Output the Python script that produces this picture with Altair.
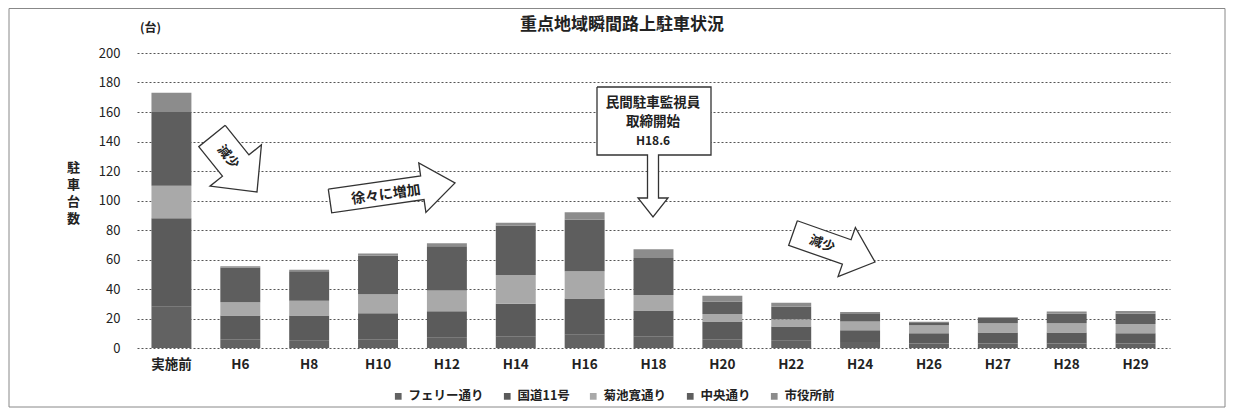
import math
import altair as alt
import pandas as pd

# ---- data ----
categories = ["実施前", "H6", "H8", "H10", "H12", "H14", "H16", "H18",
              "H20", "H22", "H24", "H26", "H27", "H28", "H29"]
series = ["フェリー通り", "国道11号", "菊池寛通り", "中央通り", "市役所前"]
ferry = [28, 6, 5, 6, 7, 8, 9, 8, 6, 5, 4, 3, 3, 3, 3]
kokudo = [60, 16, 17, 17.5, 18, 22, 24.5, 17.5, 12, 9.5, 8, 7, 7.5, 7.5, 7]
kikuchi = [22, 9, 10, 13, 14, 19.5, 18.5, 10.5, 5, 5, 6, 5.5, 6.3, 6.3, 6.3]
chuo = [50, 23.5, 20, 26, 30, 33.5, 35, 25, 8.5, 8.5, 5, 2, 3.5, 6.5, 7]
shiyakusho = [13, 1, 1, 1.5, 2, 2, 5, 6, 4, 2.7, 1.4, 0.3, 0.5, 1.4, 1.8]
y_ticks = [0, 20, 40, 60, 80, 100, 120, 140, 160, 180, 200]

title_text = "重点地域瞬間路上駐車状況"
unit_text = "(台)"
y_title = ["駐", "車", "台", "数"]
callout_lines = ["民間駐車監視員", "取締開始", "H18.6"]
arrow_labels = ["減少", "徐々に増加", "減少"]

colors = ["#626262", "#5b5b5b", "#a9a9a9", "#5e5e5e", "#8c8c8c"]
FONT = "Noto Sans CJK JP"
W, H = 1033, 295

rows = []
for si, (name, vals) in enumerate(zip(series, [ferry, kokudo, kikuchi, chuo, shiyakusho])):
    for c, v in zip(categories, vals):
        rows.append({"cat": c, "series": name, "value": v, "idx": si})
df = pd.DataFrame(rows)

bars = alt.Chart(df).mark_bar().encode(
    x=alt.X("cat:N", sort=categories,
            scale=alt.Scale(paddingInner=0.42, paddingOuter=0.21),
            axis=alt.Axis(title=None, labelAngle=0, domain=False, ticks=False,
                          labelPadding=9, labelFontSize=13.5, labelFontWeight="bold",
                          labelColor="#222", labelFont=FONT)),
    y=alt.Y("value:Q", stack="zero",
            scale=alt.Scale(domain=[0, 200], nice=False),
            axis=alt.Axis(values=y_ticks, domain=False, ticks=False, labelPadding=17,
                          labelFontSize=13, labelColor="#222", labelFont=FONT,
                          gridColor="#555", gridDash=[2, 2], gridWidth=1,
                          title=y_title, titleAngle=0, titleX=-64, titleY=108,
                          titleAlign="center", titleBaseline="top",
                          titleFontSize=13, titleFontWeight="bold",
                          titleLineHeight=17, titleColor="#222", titleFont=FONT)),
    color=alt.Color("series:N", sort=series,
                    scale=alt.Scale(domain=series, range=colors),
                    legend=alt.Legend(title=None, orient="none", direction="horizontal",
                                      legendX=255, legendY=337, symbolType="square",
                                      symbolSize=45, symbolStrokeWidth=0,
                                      labelFontSize=12.5, labelFont=FONT,
                                      labelFontWeight="bold",
                                      labelColor="#222", columnPadding=17)),
    order=alt.Order("idx:Q", sort="ascending"),
)

# ---- annotation shapes (pixel space of the plot area) ----
def block_arrow(x0, y0, x1, y1, shaft, head, head_len):
    dx, dy = x1 - x0, y1 - y0
    L = math.hypot(dx, dy)
    ux, uy = dx / L, dy / L
    nx, ny = -uy, ux
    neck = L - head_len
    pts = [(0, -shaft / 2), (neck, -shaft / 2), (neck, -head / 2), (L, 0),
           (neck, head / 2), (neck, shaft / 2), (0, shaft / 2), (0, -shaft / 2)]
    return [(x0 + ux * a + nx * b, y0 + uy * a + ny * b) for a, b in pts]

def callout(x0, y0, x1, y1, cx, stem_end, shaft, head, head_len):
    neck = stem_end - head_len
    return [(x0, y0), (x1, y0), (x1, y1), (cx + shaft / 2, y1), (cx + shaft / 2, neck),
            (cx + head / 2, neck), (cx, stem_end), (cx - head / 2, neck),
            (cx - shaft / 2, neck), (cx - shaft / 2, y1), (x0, y1), (x0, y0)]

shapes = [
    block_arrow(75, 83, 120, 139, 34, 66, 34),
    block_arrow(193, 148, 318, 130, 24, 50, 33),
    block_arrow(656, 180, 738, 209, 26, 52, 30),
    callout(460, 34, 574, 102, 516, 164, 11, 30, 19),
]
srows = []
for si, pts in enumerate(shapes):
    for k, (px, py) in enumerate(pts):
        srows.append({"shape": si, "k": k, "px": px, "py": py})
sdf = pd.DataFrame(srows)

xs = alt.Scale(domain=[0, W], nice=False, zero=False)
ys = alt.Scale(domain=[0, H], nice=False, zero=False, reverse=True)

arrows = alt.Chart(sdf).mark_line(fill="white", stroke="#333", strokeWidth=1.3,
                                  strokeJoin="miter").encode(
    x=alt.X("px:Q", scale=xs, axis=None),
    y=alt.Y("py:Q", scale=ys, axis=None),
    detail="shape:N",
    order="k:Q",
)

tdf = pd.DataFrame({
    "t": [arrow_labels[0], arrow_labels[1], arrow_labels[2]] + callout_lines,
    "tx": [91, 249, 685, 516, 516, 516],
    "ty": [104, 142, 191, 50, 69, 88],
    "ang": [51, 352, 20, 0, 0, 0],
    "fs": [13, 14, 13, 13.5, 13.5, 12],
})
texts = alt.Chart(tdf).mark_text(font=FONT, fontWeight="bold", color="#222",
                                 baseline="middle", align="center").encode(
    x=alt.X("tx:Q", scale=xs, axis=None),
    y=alt.Y("ty:Q", scale=ys, axis=None),
    text="t:N",
    angle=alt.Angle("ang:Q", scale=None),
    size=alt.Size("fs:Q", scale=None),
)

unit = alt.Chart(alt.Data(values=[{}])).mark_text(
    font=FONT, fontSize=12, fontWeight="bold", color="#222", align="left", baseline="middle"
).encode(x=alt.value(3), y=alt.value(-25), text=alt.value(unit_text))

title = alt.Chart(alt.Data(values=[{}])).mark_text(
    font=FONT, fontSize=17, fontWeight="bold", color="#222", align="center", baseline="middle"
).encode(x=alt.value(485), y=alt.value(-28), text=alt.value(title_text))

frame = alt.Chart(alt.Data(values=[{}])).mark_rect(
    fill="white", fillOpacity=0, stroke="#888", strokeWidth=1
).encode(x=alt.value(-128), x2=alt.value(1088), y=alt.value(-44.5), y2=alt.value(354))

chart = alt.layer(frame, bars, arrows, texts, unit, title).resolve_scale(
    x="independent", y="independent"
).properties(
    width=W, height=H,
    padding={"left": 129, "top": 45, "right": 56, "bottom": 60},
    autosize=alt.AutoSizeParams(type="none"),
).configure_view(stroke=None)

chart.save("out.html", embed_options={"renderer": "svg", "actions": False})
